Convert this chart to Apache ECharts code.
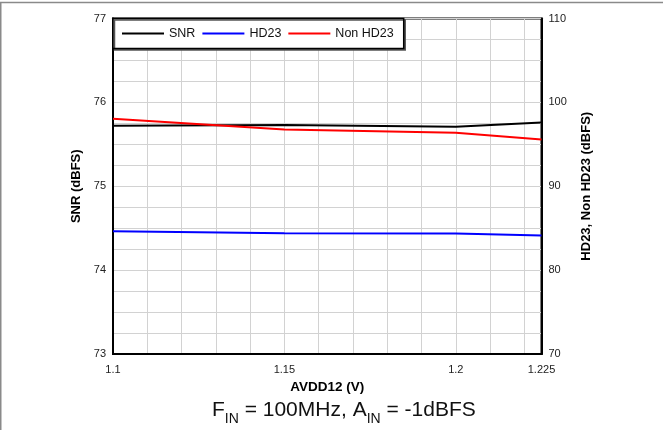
<!DOCTYPE html>
<html>
<head>
<meta charset="utf-8">
<script src="https://cdn.jsdelivr.net/npm/echarts@6/dist/echarts.min.js"></script>
<style>
html,body{margin:0;padding:0;background:#fff;}
#chart{width:663px;height:430px;}
</style>
</head>
<body>
<div id="chart"></div>
<script>
var avdd = [1.1, 1.15, 1.2, 1.225];
var snr = [75.72, 75.73, 75.71, 75.76];
var hd23 = [84.64, 84.40, 84.37, 84.13];
var nonHd23 = [98.06, 96.78, 96.39, 95.56];
var xLabels = [1.1, 1.15, 1.2, 1.225];
var leftLabels = [73, 74, 75, 76, 77];
var rightLabels = [70, 80, 90, 100, 110];

function pairs(xs, ys) { return xs.map(function (x, i) { return [x, ys[i]]; }); }
function inList(list, v) {
  for (var i = 0; i < list.length; i++) if (Math.abs(list[i] - v) < 1e-6) return true;
  return false;
}

var FONT = '"Liberation Sans", Arial, sans-serif';
var chart = echarts.init(document.getElementById('chart'));
chart.setOption({
  animation: false,
  backgroundColor: '#fff',
  textStyle: { fontFamily: FONT },
  grid: { left: 113, right: 121.5, top: 18.5, bottom: 76, show: true, borderColor: '#000', borderWidth: 2, containLabel: false },
  legend: {
    left: 113, top: 18.5,
    width: 294,
    padding: [8, 10, 8, 9],
    icon: 'rect',
    itemWidth: 42, itemHeight: 2, itemGap: 7,
    backgroundColor: '#fff',
    borderColor: '#000', borderWidth: 1.5,
    borderRadius: 0,
    shadowColor: '#555', shadowOffsetX: 1.5, shadowOffsetY: 1.5, shadowBlur: 0,
    textStyle: { fontFamily: FONT, fontSize: 12.5, color: '#111', lineHeight: 14 },
    data: ['SNR', 'HD23', 'Non HD23']
  },
  xAxis: {
    type: 'value', min: 1.1, max: 1.225, interval: 0.01,
    name: 'AVDD12 (V)', nameLocation: 'middle', nameGap: 21,
    nameTextStyle: { fontFamily: FONT, fontWeight: 'bold', fontSize: 13.5, color: '#000' },
    axisLine: { show: true, lineStyle: { color: '#000', width: 2 } },
    axisTick: { show: false },
    axisLabel: {
      fontFamily: FONT, fontSize: 11, color: '#222', margin: 10,
      showMaxLabel: true, showMinLabel: true,
      formatter: function (v) { return inList(xLabels, v) ? String(+v.toFixed(3)) : ''; }
    },
    splitLine: { show: true, lineStyle: { color: '#d2d2d2', width: 1 } }
  },
  yAxis: [{
    type: 'value', min: 73, max: 77, interval: 0.25, position: 'left',
    name: 'SNR (dBFS)', nameLocation: 'middle', nameGap: 30, nameRotate: 90,
    nameTextStyle: { fontFamily: FONT, fontWeight: 'bold', fontSize: 13, color: '#000' },
    axisLine: { show: true, lineStyle: { color: '#000', width: 2 } },
    axisTick: { show: false },
    axisLabel: {
      fontFamily: FONT, fontSize: 11, color: '#222', margin: 7,
      formatter: function (v) { return inList(leftLabels, v) ? String(Math.round(v)) : ''; }
    },
    splitLine: { show: true, lineStyle: { color: '#d2d2d2', width: 1 } }
  }, {
    type: 'value', min: 70, max: 110, interval: 2.5, position: 'right',
    name: 'HD23, Non HD23 (dBFS)', nameLocation: 'middle', nameGap: 38, nameRotate: 90,
    nameTextStyle: { fontFamily: FONT, fontWeight: 'bold', fontSize: 13, color: '#000' },
    axisLine: { show: true, lineStyle: { color: '#000', width: 2 } },
    axisTick: { show: false },
    axisLabel: {
      fontFamily: FONT, fontSize: 11, color: '#222', margin: 7,
      formatter: function (v) { return inList(rightLabels, v) ? String(Math.round(v)) : ''; }
    },
    splitLine: { show: false }
  }],
  series: [
    { name: 'SNR', type: 'line', yAxisIndex: 0, symbol: 'none', data: pairs(avdd, snr), lineStyle: { color: '#000', width: 2 }, itemStyle: { color: '#000' } },
    { name: 'HD23', type: 'line', yAxisIndex: 1, symbol: 'none', data: pairs(avdd, hd23), lineStyle: { color: '#0000ff', width: 2 }, itemStyle: { color: '#0000ff' } },
    { name: 'Non HD23', type: 'line', yAxisIndex: 1, symbol: 'none', data: pairs(avdd, nonHd23), lineStyle: { color: '#ff0000', width: 2 }, itemStyle: { color: '#ff0000' } }
  ],
  graphic: [
    { type: 'line', shape: { x1: 0, y1: 2.5, x2: 663, y2: 2.5 }, style: { stroke: '#8a8a8a', lineWidth: 1.5 } },
    { type: 'line', shape: { x1: 0.75, y1: 2, x2: 0.75, y2: 430 }, style: { stroke: '#8a8a8a', lineWidth: 1.5 } },
    {
      type: 'text', left: 212, top: 400,
      style: {
        text: '{a|F}{s|IN}{a| = 100MHz, A}{s|IN}{a| = -1dBFS}',
        rich: {
          a: { fontFamily: FONT, fontSize: 21, fill: '#111', lineHeight: 24, verticalAlign: 'bottom' },
          s: { fontFamily: FONT, fontSize: 14, fill: '#111', lineHeight: 14, padding: [0, 0, -5, 0], verticalAlign: 'bottom' }
        }
      }
    }
  ]
});
</script>
</body>
</html>
